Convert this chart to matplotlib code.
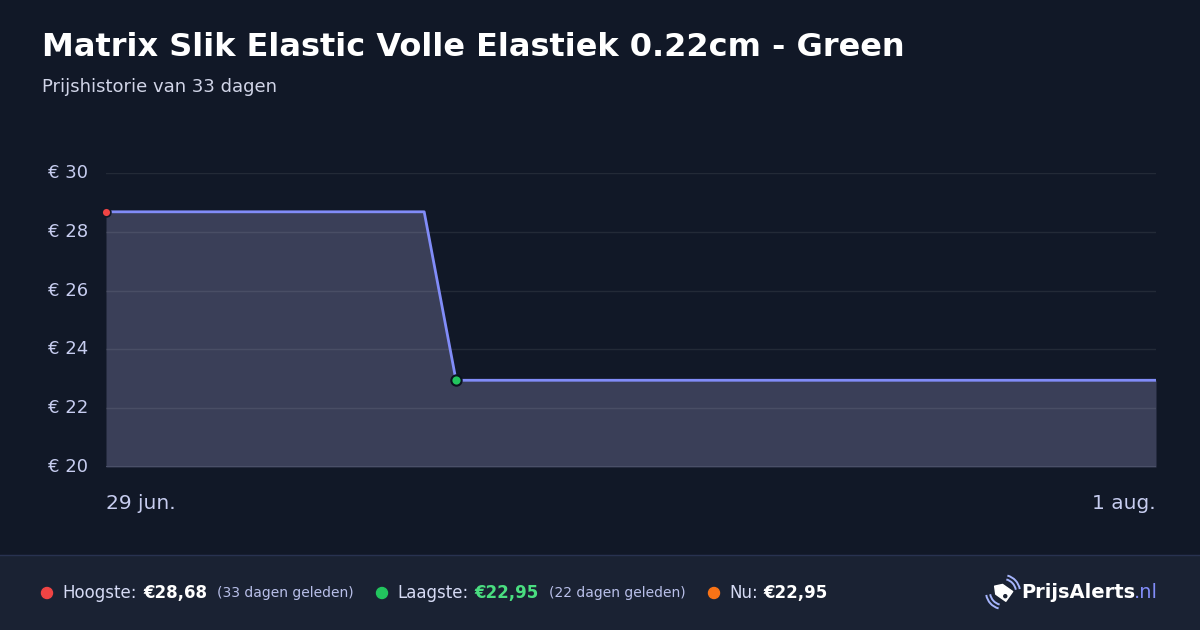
import matplotlib.pyplot as plt
from matplotlib.patches import Polygon, Arc, Circle, Rectangle
import numpy as np

plt.rcParams['font.family'] = ['DejaVu Sans']

# prijsdata (dag-index vanaf 29 jun.)
days = [0, 10, 11, 33]
prices = [28.68, 28.68, 22.95, 22.95]
xtick_days = [0, 33]
xtick_labels = ["29 jun.", "1 aug."]
ytick_vals = [20, 22, 24, 26, 28, 30]

title = "Matrix Slik Elastic Volle Elastiek 0.22cm - Green"
subtitle = "Prijshistorie van 33 dagen"

bg = "#111827"
footer_bg = "#1a2233"
line_c = "#818cf8"
fill_c = "#3a3f58"
tick_c = "#c7cdf0"

W, H = 1200, 630
fig = plt.figure(figsize=(W / 100, H / 100), dpi=100, facecolor=bg)

def px(x, y):
    return x / W, 1 - y / H

def inch(x, y):
    # pixelpositie (y van boven) naar inches
    return x / 100, (H - y) / 100

# footer
fig.patches.append(Rectangle((0, 0), 1, 75 / H, transform=fig.transFigure,
                             color=footer_bg, zorder=0))
fig.lines.append(plt.Line2D([0, 1], [75 / H, 75 / H], transform=fig.transFigure,
                            color="#283250", lw=1))

ax = fig.add_axes([106 / W, 163 / H, 1050 / W, 294 / H])
ax.set_facecolor(bg)
ax.fill_between(days, prices, 20, color=fill_c, lw=0, zorder=1)
ax.plot(days, prices, color=line_c, lw=2, zorder=3, solid_joinstyle="round")
ax.set_xlim(0, 33)
ax.set_ylim(20, 30)
for v in ytick_vals[1:]:
    ax.axhline(v, color="white", alpha=0.08, lw=1, zorder=2)
ax.axhline(20, color="#4a5068", lw=1.5, zorder=2)

# hoogste / laagste punten
i_max = int(np.argmax(prices))
i_min = int(np.argmin(prices))
ax.scatter([days[i_max]], [prices[i_max]], s=40, color="#ef4444", edgecolor=bg,
           lw=1.2, zorder=5, clip_on=False)
ax.scatter([days[i_min]], [prices[i_min]], s=55, color="#22c55e", edgecolor="#0b1220",
           lw=1.5, zorder=5, clip_on=False)

for s in ax.spines.values():
    s.set_visible(False)
ax.set_xticks([])
ax.set_yticks([])
for v in ytick_vals:
    ax.text(-0.055, v, f"€ {v}", transform=ax.get_yaxis_transform(), ha="left",
            va="center", fontsize=13, color=tick_c)
for d, lab, ha in zip(xtick_days, xtick_labels, ["left", "right"]):
    ax.annotate(lab, xy=(d, 20), xytext=(0, -26), textcoords="offset points",
                ha=ha, va="center", fontsize=14.5, color=tick_c)

fig.text(*px(42, 48), title, fontsize=23, fontweight="bold", color="white", va="center")
fig.text(*px(42, 87), subtitle, fontsize=13, color="#d1d5e8", va="center")

# footer teksten
yf = 593
fs = 12

def dot(x, c):
    fig.patches.append(Circle(inch(x, yf), 0.055, transform=fig.dpi_scale_trans,
                              color=c, zorder=3))

dot(47, "#ef4444")
fig.text(*px(62, yf), "Hoogste:", fontsize=fs, color="#d6dbf5", va="center")
fig.text(*px(143, yf), f"€{prices[i_max]:.2f}".replace(".", ","), fontsize=fs,
         fontweight="bold", color="white", va="center")
fig.text(*px(217, yf), "(33 dagen geleden)", fontsize=10, color="#b9c0ea", va="center")
dot(382, "#22c55e")
fig.text(*px(397, yf), "Laagste:", fontsize=fs, color="#d6dbf5", va="center")
fig.text(*px(474, yf), f"€{prices[i_min]:.2f}".replace(".", ","), fontsize=fs,
         fontweight="bold", color="#4ade80", va="center")
fig.text(*px(549, yf), "(22 dagen geleden)", fontsize=10, color="#b9c0ea", va="center")
dot(714, "#f97316")
fig.text(*px(729, yf), "Nu:", fontsize=fs, color="#d6dbf5", va="center")
fig.text(*px(763, yf), f"€{prices[-1]:.2f}".replace(".", ","), fontsize=fs,
         fontweight="bold", color="white", va="center")

# logo
fig.text(*px(1021, yf), "PrijsAlerts", fontsize=14, fontweight="bold", color="white",
         va="center")
fig.text(*px(1158, yf), ".nl", fontsize=14, color="#818cf8", va="center", ha="right")

cx, cy = 1003, 592
ang = np.deg2rad(35)
tag = np.array([[-12, 0], [-5.5, 7], [9, 7], [9, -7], [-5.5, -7]]) * 0.85
rot = np.array([[np.cos(ang), -np.sin(ang)], [np.sin(ang), np.cos(ang)]])
tag = tag @ rot.T
pts = [inch(cx + p[0], cy + p[1]) for p in tag]
fig.patches.append(Polygon(pts, closed=True, transform=fig.dpi_scale_trans,
                           color="white", zorder=4, joinstyle="round"))
hole = (np.array([5, 2.5]) * 0.85) @ rot.T
fig.patches.append(Circle(inch(cx + hole[0], cy + hole[1]), 0.015,
                          transform=fig.dpi_scale_trans, color=footer_bg, zorder=5))
for r in [13, 17]:
    for a0 in [10, 190]:
        fig.patches.append(Arc(inch(cx, cy), 2 * r / 100, 2 * r / 100, theta1=a0,
                               theta2=a0 + 65, transform=fig.dpi_scale_trans,
                               color="#a5b4fc", lw=1.4, zorder=4))

fig.savefig("out.png", dpi=100, facecolor=bg)
